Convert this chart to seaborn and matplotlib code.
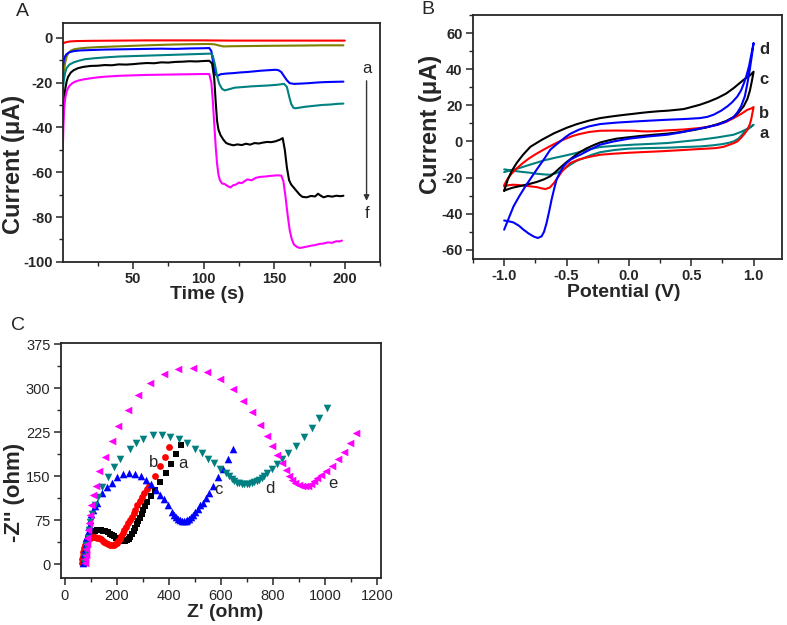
import numpy as np
import pandas as pd
import seaborn as sns
import matplotlib
matplotlib.use('Agg')
import matplotlib.pyplot as plt
from matplotlib.ticker import MultipleLocator

# ---------------------------------------------------------------
# Panel A: current vs time (curves a..f)
t_a = [0.3, 2, 5, 10, 20, 40, 60, 80, 100, 120, 140, 160, 180, 200]
i_a = [-2.6, -2.1, -1.7, -1.5, -1.4, -1.3, -1.2, -1.2, -1.2, -1.3, -1.3, -1.3, -1.3, -1.3]

t_b = [0.3, 1, 2, 3, 4, 6, 8, 12, 17, 25, 38, 55, 75, 90, 104, 108, 111, 114, 120, 135, 150, 170, 185, 199]
i_b = [-20, -15, -11, -8.5, -7, -5.8, -5.2, -4.8, -4.5, -4.2, -3.9, -3.5, -3.1, -2.9, -2.8, -3.0, -3.5, -3.9,
       -3.8, -3.7, -3.6, -3.5, -3.4, -3.4]

t_c = [0.3, 1, 2, 3, 5, 8, 12, 20, 30, 40, 50, 60, 70, 80, 90, 100, 104, 105.5, 106.5, 107.5,
       108.5, 110, 112, 116, 121, 126, 131, 136, 141, 146, 151, 153, 155, 157, 159, 161, 164, 168,
       174, 180, 186, 192, 199]
i_c = [-13, -10, -8.2, -7.3, -6.5, -6.0, -5.7, -5.5, -5.3, -5.2, -5.1, -5.0, -4.9, -5.0, -4.8, -4.7,
       -4.6, -6, -10, -14, -16.5, -17, -16.3, -16.0, -15.8, -15.5, -15.3, -15.0, -14.7, -14.5, -14.3,
       -14.5, -15.3, -17.2, -19.0, -20.3, -20.6, -20.5, -20.3, -20.0, -19.8, -19.7, -19.6]

t_d = [0.3, 1, 2, 3, 5, 8, 12, 16, 22, 30, 40, 50, 60, 70, 80, 90, 100, 105, 106.5, 108,
       109.5, 111, 113, 115, 118, 122, 128, 134, 140, 146, 152, 157, 159, 160.5, 162, 163.5, 165,
       167, 172, 178, 184, 190, 195, 199]
i_d = [-24, -19, -15.5, -13.5, -12, -11, -10.2, -9.6, -9.2, -8.8, -8.4, -8.2, -8.0, -7.8, -7.6, -7.4,
       -7.2, -7.1, -8, -12, -17, -20.5, -22.8, -23.5, -23.0, -22.3, -22.0, -21.7, -21.5, -21.3, -21.0,
       -20.6, -22, -26, -29.5, -31.2, -31.5, -31.3, -30.8, -30.4, -30.0, -29.8, -29.5, -29.4]

t_e = [0.3, 1, 2, 3, 4, 6, 8, 11, 15, 20, 25, 30, 35, 40, 45, 50, 55, 60, 65, 70, 75, 80, 85, 90,
       95, 100, 104, 106, 107.5, 108.5, 109.5, 110.5, 112, 114, 116, 118, 121, 124, 127, 130, 133,
       136, 139, 142, 145, 148, 151, 154, 156, 157.5, 159, 160.5, 162, 164, 166, 168, 170, 173, 176,
       179, 181, 183, 185, 188, 191, 194, 197, 199]
i_e = [-38, -30, -23, -19.5, -17.5, -15.5, -14.5, -13.6, -13.0, -12.6, -12.5, -12.2, -12.3, -11.9,
       -12.0, -11.8, -11.5, -11.3, -11.4, -11.0, -11.1, -10.8, -10.7, -10.5, -10.6, -10.4, -10.3,
       -11.5, -18, -28, -37, -41, -43.5, -45.5, -47, -47.5, -48, -47.6, -47.9, -47.3, -47.7, -47.0,
       -47.2, -46.8, -46.5, -46.6, -46.2, -45.5, -44.8, -50, -58, -63.5, -65.5, -67, -68.5, -70, -71,
       -71.2, -70.6, -70.8, -69.6, -70.5, -71.2, -70.6, -70.9, -70.5, -70.7, -70.5]

t_f = [0.3, 0.7, 1.2, 2, 3, 4, 5, 7, 9, 12, 15, 20, 25, 30, 40, 50, 60, 70, 80, 90, 100, 104,
       105.5, 106.5, 107.5, 108.5, 109.5, 110.5, 111.5, 113, 115, 117, 119, 121, 123, 125, 127, 129,
       131, 134, 137, 140, 144, 148, 152, 155, 156.5, 158, 159.5, 161, 162.5, 164, 166, 168, 170,
       173, 176, 179, 182, 185, 188, 191, 194, 196, 198]
i_f = [-50, -40, -32, -27, -24, -22.5, -21.5, -20.3, -19.6, -19, -18.6, -18.1, -17.7, -17.4, -17.0,
       -16.8, -16.6, -16.5, -16.4, -16.3, -16.2, -16.2, -20, -28, -38, -48, -56, -61, -63.5, -65,
       -65.3, -66.2, -66.8, -65.8, -65.5, -64.6, -64.9, -64.0, -63.2, -63.6, -62.5, -62.1, -61.9,
       -61.6, -61.4, -61.5, -64, -71, -79, -86, -90, -92.3, -93.3, -93.8, -93.6, -93.2, -92.8, -92.5,
       -92.0, -91.8, -91.3, -91.5, -90.8, -90.9, -90.5]

# ---------------------------------------------------------------
# Panel B: cyclic voltammograms (closed loops, a..d)
v_a = [-1.0, -0.95, -0.87, -0.8, -0.74, -0.68, -0.63, -0.59, -0.55, -0.51, -0.47, -0.42, -0.36,
       -0.3, -0.23, -0.12, 0.0, 0.15, 0.31, 0.45, 0.57, 0.67, 0.75, 0.8, 0.84, 0.88, 0.92, 0.96, 1.0,
       0.95, 0.9, 0.84, 0.71, 0.57, 0.44, 0.31, 0.17, 0.04, -0.1, -0.23, -0.31, -0.39, -0.45, -0.52,
       -0.6, -0.68, -0.75, -0.82, -0.88, -0.94, -1.0]
c_a = [-15.5, -16.0, -16.8, -17.3, -17.9, -18.3, -18.5, -17.8, -16.6, -14.8, -12.9, -10.8, -9.2,
       -7.5, -6.0, -4.8, -4.0, -3.7, -3.5, -3.1, -2.8, -2.2, -1.5, -0.8, 0.0, 1.6, 4.7, 7.0, 9.2,
       7.0, 5.3, 3.7, 2.2, 0.9, 0.0, -0.9, -1.4, -1.8, -2.4, -3.1, -4.3, -5.8, -6.9, -8.0,
       -9.2, -10.5, -12.0, -13.5, -14.8, -15.9, -17.0]

v_b = [-1.0, -0.96, -0.925, -0.88, -0.85, -0.79, -0.74, -0.7, -0.67, -0.635, -0.6, -0.57, -0.536,
       -0.5, -0.47, -0.4, -0.32, -0.23, -0.12, 0.0, 0.12, 0.25, 0.38, 0.5, 0.6, 0.7, 0.76, 0.8, 0.84,
       0.87, 0.9, 0.93, 0.95, 0.97, 0.98, 0.99, 1.0,
       0.98, 0.95, 0.9, 0.84, 0.78, 0.71, 0.64, 0.57, 0.44, 0.31, 0.22, 0.15, 0.1, 0.04, -0.1, -0.23,
       -0.32, -0.4, -0.45, -0.5, -0.55, -0.6, -0.65, -0.7, -0.75, -0.8, -0.85, -0.9, -0.94, -0.97, -1.0]
c_b = [-25.0, -24.2, -24.0, -24.2, -24.5, -24.9, -25.3, -26.0, -26.4, -25.6, -23.0, -20.0, -16.6,
       -14.0, -12.0, -10.0, -8.6, -7.4, -6.8, -6.3, -5.9, -5.5, -5.0, -4.5, -4.1, -3.7, -3.0, -2.0, -1.0,
       0.0, 2.0, 4.5, 6.5, 9.5, 12.0, 15.5, 19.0,
       18.2, 17.5, 15.2, 12.9, 10.8, 9.2, 8.2, 7.4, 6.6, 6.1, 5.7, 5.5, 5.6, 5.9, 6.0, 5.9,
       5.2, 4.0, 3.0, 1.7, 0.2, -1.5, -3.3, -5.2, -7.2, -9.4, -12.0, -15.0, -17.8, -20.5, -24.2]

v_c = [-1.0, -0.97, -0.93, -0.87, -0.8, -0.74, -0.68, -0.63, -0.59, -0.55, -0.5, -0.44, -0.39,
       -0.34, -0.28, -0.23, -0.16, -0.1, 0.0, 0.09, 0.2, 0.31, 0.42, 0.52, 0.62, 0.71, 0.78, 0.84,
       0.88, 0.92, 0.95, 0.97, 0.985, 1.0,
       0.97, 0.92, 0.88, 0.84, 0.78, 0.71, 0.64, 0.57, 0.5, 0.44, 0.37, 0.31, 0.24, 0.17, 0.1, 0.04,
       -0.05, -0.14, -0.23, -0.32, -0.42, -0.5, -0.6, -0.7, -0.79, -0.85, -0.9, -0.94, -0.97, -1.0]
c_c = [-27.3, -26.5, -25.6, -24.7, -23.6, -22.5, -21.0, -19.3, -17.0, -14.5, -11.5, -8.3, -5.8,
       -3.9, -2.0, -0.6, 0.6, 1.5, 2.3, 3.0, 3.7, 4.3, 5.2, 6.3, 7.7, 9.5, 11.3, 13.5,
       16.0, 19.4, 23.5, 28.0, 33.0, 38.6,
       36.5, 34.1, 31.8, 29.5, 26.5, 24.0, 22.0, 20.3, 19.0, 17.9, 17.4, 17.0, 16.7, 16.3, 15.8, 15.3,
       14.6, 13.8, 12.9, 11.5, 9.5, 7.5, 4.5, 0.8, -3.0, -7.5, -12.0, -16.5, -21.0, -27.3]

v_d = [-1.0, -0.96, -0.925, -0.88, -0.845, -0.8, -0.76, -0.73, -0.7, -0.68, -0.66, -0.64, -0.62,
       -0.6, -0.58, -0.55, -0.525, -0.5, -0.47, -0.43, -0.39, -0.31, -0.23, -0.12, 0.0, 0.15, 0.31,
       0.42, 0.52, 0.62, 0.71, 0.78, 0.84, 0.87, 0.9, 0.93, 0.95, 0.97, 0.985, 1.0,
       0.98, 0.963, 0.943, 0.923, 0.9, 0.87, 0.83, 0.79, 0.74, 0.68, 0.63, 0.57, 0.45, 0.31, 0.17,
       0.04, -0.1, -0.23, -0.32, -0.4, -0.47, -0.51, -0.55, -0.59, -0.63, -0.68, -0.74, -0.79, -0.83,
       -0.88, -0.925, -0.96, -1.0]
c_d = [-43.8, -44.3, -44.9, -46.8, -48.9, -51.2, -52.8, -53.5, -52.6, -50.0, -45.2, -39.0, -32.3,
       -26.5, -21.2, -16.8, -13.9, -12.0, -10.2, -8.7, -7.4, -4.5, -1.8, 0.0, 1.5, 2.7, 3.7,
       5.0, 6.5, 7.8, 9.2, 11.0, 13.5, 16.0, 19.4, 25.0, 32.0, 40.0, 47.0, 54.5,
       47.5, 41.5, 36.5, 32.3, 28.3, 24.9, 21.8, 19.4, 17.0, 14.8, 13.6, 12.9, 12.4, 12.0, 11.5,
       11.0, 10.4, 9.6, 8.3, 6.5, 4.2, 2.3, 0.0, -2.2, -4.6, -9.8, -15.7, -20.8, -24.9,
       -30.5, -36.0, -42.0, -48.9]

# ---------------------------------------------------------------
# Panel C: Nyquist plots (a..e)
x_a = [72, 74, 76, 78, 81, 84, 88, 92, 97, 103, 109, 116, 123, 130, 138, 147, 156, 165, 174, 182,
       190, 198, 206, 214, 222, 230, 238, 245, 252, 258, 264, 270, 276, 282, 288, 295, 301, 308, 314,
       330, 347, 365, 387, 408, 427, 446]
y_a = [2, 8, 15, 22, 29, 36, 42, 47, 51, 54, 56, 57, 58, 58, 58, 57, 56, 54, 52, 50, 48, 45, 43, 41,
       40, 40, 41, 43, 47, 51, 56, 62, 68, 74, 79, 86, 92, 99, 106, 116, 127, 140, 155, 171, 188, 204]

x_b = [66, 67, 69, 71, 74, 77, 81, 86, 91, 97, 103, 110, 117, 124, 131, 138, 145, 152, 159, 166,
       173, 180, 187, 193, 199, 205, 211, 217, 223, 229, 236, 243, 250, 257, 264, 271, 279, 287, 296,
       305, 315, 325, 346, 365, 384, 401]
y_b = [2, 8, 14, 21, 27, 33, 38, 41, 43, 45, 46, 46, 46, 45, 44, 42, 40, 38, 36, 34, 33, 33, 33, 34,
       36, 39, 43, 48, 53, 58, 64, 70, 76, 81, 87, 93, 100, 107, 114, 121, 128, 134, 150, 167, 183, 200]

x_c = [70, 72, 74, 77, 80, 83, 87, 91, 96, 101, 107, 114, 122, 141, 160, 182, 201, 224, 246, 269,
       291, 312, 330, 349, 365, 381, 395, 410, 420, 428, 436, 443, 450, 457, 464, 471, 478, 486, 494,
       502, 511, 521, 531, 542, 555, 570, 590, 609, 628, 647]
y_c = [2, 9, 17, 26, 35, 45, 55, 65, 75, 85, 93, 99, 104, 121, 132, 139, 148, 153, 155, 154, 150,
       143, 137, 127, 117, 111, 100, 89, 84, 80, 77, 75, 74, 74, 74, 75, 77, 80, 84, 88, 94, 100, 105,
       112, 121, 134, 148, 163, 179, 196]

x_d = [75, 77, 80, 83, 87, 92, 98, 105, 114, 128, 141, 167, 190, 212, 250, 275, 301, 340, 372, 404,
       440, 468, 500, 526, 551, 573, 596, 618, 630, 641, 651, 660, 670, 680, 690, 699, 709, 718, 728,
       737, 746, 756, 766, 776, 795, 814, 833, 859, 888, 920, 951, 978, 1006]
y_d = [3, 12, 22, 33, 45, 58, 72, 86, 100, 115, 132, 149, 166, 180, 197, 206, 213, 220, 221, 217,
       213, 206, 197, 189, 180, 172, 163, 156, 150, 145, 142, 139, 138, 137, 136, 136, 137, 138, 140,
       142, 144, 147, 151, 155, 162, 171, 180, 190, 201, 216, 232, 250, 267]

x_e = [78, 79, 80, 82, 84, 86, 89, 92, 96, 100, 109, 118, 132, 156, 180, 205, 241, 282, 327, 381,
       436, 491, 545, 596, 645, 686, 720, 750, 776, 797, 817, 835, 850, 862, 874, 886, 898, 910, 922,
       934, 946, 958, 970, 984, 1004, 1026, 1051, 1073, 1096, 1119]
y_e = [2, 8, 15, 25, 35, 45, 58, 70, 84, 100, 118, 134, 159, 182, 210, 235, 263, 288, 309, 325, 332,
       334, 328, 315, 298, 279, 259, 238, 218, 201, 186, 172, 160, 150, 143, 138, 135, 134, 133, 134,
       137, 141, 146, 152, 159, 167, 179, 192, 207, 223]

# ---------------------------------------------------------------
sns.set_style('ticks')
plt.rcParams['font.family'] = ['Liberation Sans', 'DejaVu Sans']
plt.rcParams['axes.unicode_minus'] = False
plt.rcParams['axes.linewidth'] = 1.3

fig = plt.figure(figsize=(7.87, 6.25), dpi=100)
axA = fig.add_axes([0.080, 0.581, 0.403, 0.382])
axB = fig.add_axes([0.601, 0.586, 0.393, 0.390])
axC = fig.add_axes([0.0775, 0.075, 0.4066, 0.376])


def estilo(ax, bold=True):
    ax.tick_params(which='major', direction='out', length=5, width=1.1, labelsize=10.5, pad=2.5)
    ax.tick_params(which='minor', direction='out', length=3, width=1)
    for lab in ax.get_xticklabels() + ax.get_yticklabels():
        lab.set_fontweight('bold' if bold else 'normal')


# ---- A
colA = ['#FF0000', '#808000', '#0000FF', '#008080', '#000000', '#FF00FF']
for tt, ii, col in zip([t_a, t_b, t_c, t_d, t_e, t_f], [i_a, i_b, i_c, i_d, i_e, i_f], colA):
    sns.lineplot(x=tt, y=ii, color=col, lw=1.5, ax=axA, estimator=None, sort=False)
axA.set_xlim(0.4, 225)
axA.set_ylim(-100, 6.5)
axA.xaxis.set_major_locator(MultipleLocator(50))
axA.xaxis.set_minor_locator(MultipleLocator(25))
axA.yaxis.set_major_locator(MultipleLocator(20))
axA.yaxis.set_minor_locator(MultipleLocator(10))
axA.set_xticks([50, 100, 150, 200])
axA.set_xlabel('Time (s)', fontsize=14, fontweight='bold', va='top')
axA.set_ylabel('Current (\u03bcA)', fontsize=17, fontweight='bold')
axA.xaxis.set_label_coords(0.454, -0.100)
axA.yaxis.set_label_coords(-0.12, 0.41)
axA.annotate('', xy=(215.4, -74), xytext=(215.4, -18),
             arrowprops=dict(arrowstyle='-|>', color='#333333', lw=1, mutation_scale=8))
axA.text(215.4, -13.8, 'a', ha='center', va='center', fontsize=12)
axA.text(215.4, -78.5, 'f', ha='center', va='center', fontsize=12)
estilo(axA)

# ---- B
colB = ['#008080', '#FF0000', '#000000', '#0000FF']
for vv, cc, col in zip([v_a, v_b, v_c, v_d], [c_a, c_b, c_c, c_d], colB):
    sns.lineplot(x=vv, y=cc, color=col, lw=1.5, ax=axB, estimator=None, sort=False)
axB.set_xlim(-1.25, 1.23)
axB.set_ylim(-65, 70)
axB.xaxis.set_major_locator(MultipleLocator(0.5))
axB.xaxis.set_minor_locator(MultipleLocator(0.25))
axB.yaxis.set_major_locator(MultipleLocator(20))
axB.yaxis.set_minor_locator(MultipleLocator(10))
axB.set_xticks([-1.0, -0.5, 0.0, 0.5, 1.0])
axB.set_xticklabels(['-1.0', '-0.5', '0.0', '0.5', '1.0'])
axB.set_yticks([-60, -40, -20, 0, 20, 40, 60])
axB.set_xlabel('Potential (V)', fontsize=14, fontweight='bold', va='top')
axB.set_ylabel('Current (\u03bcA)', fontsize=17, fontweight='bold')
axB.xaxis.set_label_coords(0.487, -0.102)
axB.yaxis.set_label_coords(-0.10, 0.55)
for lab, yy in zip(['d', 'c', 'b', 'a'], [51, 34, 15.6, 4.5]):
    axB.text(1.085, yy, lab, ha='center', va='center', fontsize=12, fontweight='bold')
estilo(axB)

# ---- C
colC = ['#000000', '#FF0000', '#0000FF', '#008080', '#FF00FF']
markC = ['s', 'o', '^', 'v', '<']
sizeC = [20, 24, 30, 30, 30]
for xx, yy, col, mk, sz in zip([x_a, x_b, x_c, x_d, x_e], [y_a, y_b, y_c, y_d, y_e], colC, markC, sizeC):
    sns.scatterplot(x=xx, y=yy, color=col, marker=mk, s=sz, linewidth=0, ax=axC)
axC.set_xlim(-15, 1215)
axC.set_ylim(-24, 377)
axC.xaxis.set_major_locator(MultipleLocator(200))
axC.xaxis.set_minor_locator(MultipleLocator(100))
axC.yaxis.set_major_locator(MultipleLocator(75))
axC.yaxis.set_minor_locator(MultipleLocator(37.5))
axC.set_xticks([0, 200, 400, 600, 800, 1000, 1200])
axC.set_yticks([0, 75, 150, 225, 300, 375])
axC.set_xlabel("Z' (ohm)", fontsize=14, fontweight='bold', va='top')
axC.set_ylabel("-Z'' (ohm)", fontsize=16, fontweight='bold')
axC.xaxis.set_label_coords(0.513, -0.110)
axC.yaxis.set_label_coords(-0.1125, 0.364)
for lab, xx, yy in zip(['a', 'b', 'c', 'd', 'e'], [452, 339, 589, 790, 1031], [171, 173, 127, 129, 138]):
    axC.text(xx, yy, lab, ha='center', va='center', fontsize=12)
estilo(axC, bold=False)

# panel letters
fig.text(22 / 787, 1 - 12 / 625, 'A', ha='center', va='center', fontsize=14)
fig.text(428 / 787, 1 - 10 / 625, 'B', ha='center', va='center', fontsize=14)
fig.text(18 / 787, 1 - 325 / 625, 'C', ha='center', va='center', fontsize=14)

plt.savefig('out.png', dpi=100)
